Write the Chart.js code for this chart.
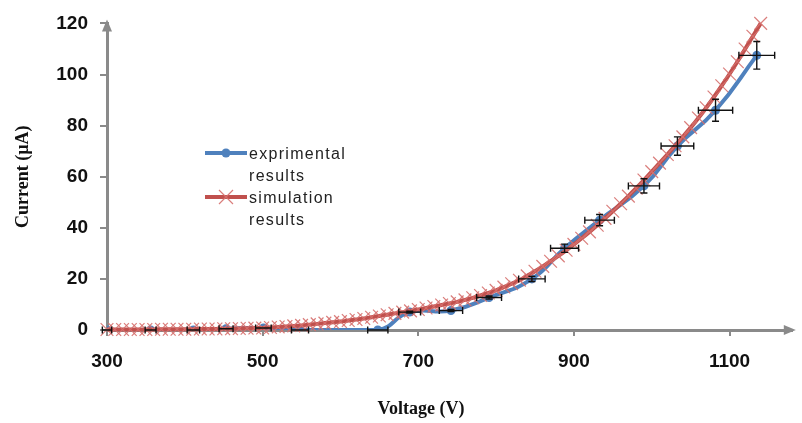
<!DOCTYPE html>
<html>
<head>
<meta charset="utf-8">
<title>Current vs Voltage</title>
<script src="https://cdn.jsdelivr.net/npm/chart.js@4.4.0/dist/chart.umd.min.js"></script>
<style>
  html, body { margin: 0; padding: 0; background: #fff; }
  #wrap { width: 802px; height: 423px; position: relative; }
</style>
</head>
<body>
<div id="wrap"><canvas id="ivChart"></canvas></div>
<script>
// ===== Dữ liệu =====
const xTicks = [300, 500, 700, 900, 1100];
const yTicks = [0, 20, 40, 60, 80, 100, 120];

// experimental points (with error bars)
const expVoltage = [300, 356, 411, 453, 501, 548, 648, 689, 742, 791, 846, 888, 933, 990, 1033, 1082, 1135];
const expCurrent = [0, 0, 0, 0.5, 0.8, 0, 0, 7.0, 7.6, 12.7, 20.0, 32.0, 43.0, 56.4, 72.0, 86.0, 107.5];
const expVoltErr = [6, 7, 8, 9, 10, 11, 13, 14, 15, 16, 17, 18, 19, 20, 21, 22, 23];
const expCurrErr = [0, 0, 0, 0, 0, 0, 0, 0.4, 0.4, 0.6, 1.0, 1.6, 2.2, 2.8, 3.6, 4.3, 5.4];

// simulation curve
const simVoltage = [
  300, 310, 320, 330, 340, 350, 360, 370, 380, 390,
  400, 410, 420, 430, 440, 450, 460, 470, 480, 490,
  500, 510, 520, 530, 540, 550, 560, 570, 580, 590,
  600, 610, 620, 630, 640, 650, 660, 670, 680, 690,
  700, 710, 720, 730, 740, 750, 760, 770, 780, 790,
  800, 810, 820, 830, 840, 850, 860, 870, 880, 890,
  900, 910, 920, 930, 940, 950, 960, 970, 980, 990,
  1000, 1010, 1020, 1030, 1040, 1050, 1060, 1070, 1080, 1090,
  1100, 1110, 1120, 1130, 1140,
];
const simCurrent = [
  0.2, 0.2, 0.2, 0.2, 0.2, 0.2, 0.2, 0.3, 0.3, 0.3,
  0.3, 0.3, 0.4, 0.4, 0.4, 0.5, 0.5, 0.6, 0.7, 0.75,
  0.8, 1.0, 1.2, 1.4, 1.6, 1.8, 2.1, 2.4, 2.7, 3.0,
  3.3, 3.7, 4.1, 4.5, 5.0, 5.5, 6.0, 6.5, 7.0, 7.5,
  8.0, 8.6, 9.2, 9.8, 10.4, 11.0, 11.8, 12.6, 13.5, 14.5,
  15.5, 16.8, 18.1, 19.5, 21.2, 23.0, 24.9, 26.9, 29.0, 31.2,
  33.5, 35.9, 38.4, 41.0, 43.7, 46.5, 49.4, 52.4, 55.5, 58.7,
  62.0, 65.3, 68.7, 72.1, 75.6, 79.2, 83.0, 87.0, 91.2, 95.6,
  100.2, 105.0, 110.0, 115.0, 120.0,
];

const seriesLabels = [["exprimental", "results"], ["simulation", "results"]];

const blue = "#4F81BD";
const red = "#C0504D";
const crossPink = "rgba(214,112,110,0.9)";
const axisGray = "#8a8a8a";

// error bars, arrow heads, legend, x title
const extras = {
  id: "extras",
  afterDatasetsDraw(chart) {
    const { ctx, scales: { x, y } } = chart;
    ctx.save();
    ctx.strokeStyle = "#111";
    ctx.lineWidth = 1.4;
    const cap = 3.5;
    expVoltage.forEach((v, i) => {
      const px = x.getPixelForValue(v);
      const py = y.getPixelForValue(expCurrent[i]);
      const x0 = x.getPixelForValue(v - expVoltErr[i]);
      const x1 = x.getPixelForValue(v + expVoltErr[i]);
      ctx.beginPath();
      ctx.moveTo(x0, py); ctx.lineTo(x1, py);
      ctx.moveTo(x0, py - cap); ctx.lineTo(x0, py + cap);
      ctx.moveTo(x1, py - cap); ctx.lineTo(x1, py + cap);
      if (expCurrErr[i] > 0) {
        const y0 = y.getPixelForValue(expCurrent[i] - expCurrErr[i]);
        const y1 = y.getPixelForValue(expCurrent[i] + expCurrErr[i]);
        ctx.moveTo(px, y0); ctx.lineTo(px, y1);
        ctx.moveTo(px - cap, y0); ctx.lineTo(px + cap, y0);
        ctx.moveTo(px - cap, y1); ctx.lineTo(px + cap, y1);
      }
      ctx.stroke();
    });
    ctx.restore();
  },
  afterDraw(chart) {
    const { ctx, chartArea: area } = chart;
    ctx.save();

    // arrow heads on the axes
    ctx.fillStyle = axisGray;
    ctx.beginPath();
    ctx.moveTo(area.left, area.top - 4);
    ctx.lineTo(area.left - 5, area.top + 8);
    ctx.lineTo(area.left + 5, area.top + 8);
    ctx.closePath();
    ctx.fill();
    ctx.beginPath();
    ctx.moveTo(area.right + 4, area.bottom);
    ctx.lineTo(area.right - 8, area.bottom - 5);
    ctx.lineTo(area.right - 8, area.bottom + 5);
    ctx.closePath();
    ctx.fill();

    // legend inside the plot
    const lx = 205, lw = 42;
    const rows = [153, 197];
    chart.data.datasets.forEach((ds) => {
      const idx = ds.legendIndex;
      const yy = rows[idx];
      ctx.strokeStyle = ds.borderColor;
      ctx.lineWidth = 4;
      ctx.beginPath();
      ctx.moveTo(lx, yy);
      ctx.lineTo(lx + lw, yy);
      ctx.stroke();
      const cx = lx + lw / 2;
      if (ds.pointStyle === "crossRot") {
        ctx.strokeStyle = ds.pointBorderColor;
        ctx.lineWidth = 1.2;
        const r = 7;
        ctx.beginPath();
        ctx.moveTo(cx - r, yy - r); ctx.lineTo(cx + r, yy + r);
        ctx.moveTo(cx - r, yy + r); ctx.lineTo(cx + r, yy - r);
        ctx.stroke();
      } else {
        ctx.fillStyle = ds.pointBackgroundColor;
        ctx.beginPath();
        ctx.arc(cx, yy, 4.5, 0, Math.PI * 2);
        ctx.fill();
      }
      ctx.fillStyle = "#222";
      ctx.font = '16px "Liberation Sans"';
      ctx.letterSpacing = "1.3px";
      ctx.textAlign = "left";
      ctx.textBaseline = "middle";
      seriesLabels[idx].forEach((t, j) => {
        ctx.fillText(t, lx + lw + 2, yy + 2 + j * 22);
      });
    });

    // x axis title
    ctx.letterSpacing = "0px";
    ctx.fillStyle = "#111";
    ctx.font = 'bold 18px "Liberation Serif"';
    ctx.textAlign = "center";
    ctx.textBaseline = "middle";
    ctx.fillText("Voltage (V)", 421, 409);
    ctx.restore();
  },
};

const ctxIV = document.getElementById("ivChart");
new Chart(ctxIV, {
  type: "line",
  data: {
    datasets: [
      {
        label: "simulation results",
        legendIndex: 1,
        data: simVoltage.map((v, i) => ({ x: v, y: simCurrent[i] })),
        borderColor: red,
        borderWidth: 4,
        tension: 0.3,
        clip: false,
        pointStyle: "crossRot",
        pointRadius: 9,
        pointBorderColor: crossPink,
        pointBackgroundColor: crossPink,
        pointBorderWidth: 1.2,
        order: 0,
      },
      {
        label: "exprimental results",
        legendIndex: 0,
        data: expVoltage.map((v, i) => ({ x: v, y: expCurrent[i] })),
        borderColor: blue,
        borderWidth: 4,
        tension: 0.5,
        pointStyle: "circle",
        pointRadius: 4.5,
        pointBorderColor: blue,
        pointBackgroundColor: blue,
        pointBorderWidth: 0,
        order: 1,
      },
    ],
  },
  options: {
    responsive: true,
    maintainAspectRatio: false,
    animation: false,
    layout: { padding: { top: 17, right: 5, left: 0, bottom: 0 } },
    plugins: { legend: { display: false }, tooltip: { enabled: false } },
    scales: {
      x: {
        type: "linear",
        min: 300,
        max: 1180,
        afterBuildTicks: (s) => { s.ticks = xTicks.map((v) => ({ value: v })); },
        afterFit: (s) => { s.height = 93; },
        border: { color: axisGray, width: 3 },
        grid: { drawOnChartArea: false, drawTicks: true, tickLength: 6, color: axisGray, lineWidth: 2 },
        ticks: {
          color: "#111",
          padding: 14,
          maxRotation: 0,
          callback: (v) => String(v),
          font: { family: "Liberation Sans", size: 19, weight: "bold" },
        },
      },
      y: {
        min: 0,
        max: 120,
        afterBuildTicks: (s) => { s.ticks = yTicks.map((v) => ({ value: v })); },
        afterFit: (s) => { s.width = 107; },
        border: { color: axisGray, width: 3 },
        grid: { drawOnChartArea: false, drawTicks: true, tickLength: 7, color: axisGray, lineWidth: 2 },
        ticks: {
          color: "#111",
          padding: 12,
          callback: (v) => String(v),
          font: { family: "Liberation Sans", size: 19, weight: "bold" },
        },
        title: {
          display: true,
          text: "Current (µA)",
          color: "#111",
          padding: { top: 13 },
          font: { family: "Liberation Serif", size: 18, weight: "bold" },
        },
      },
    },
  },
  plugins: [extras],
});
</script>
</body>
</html>
